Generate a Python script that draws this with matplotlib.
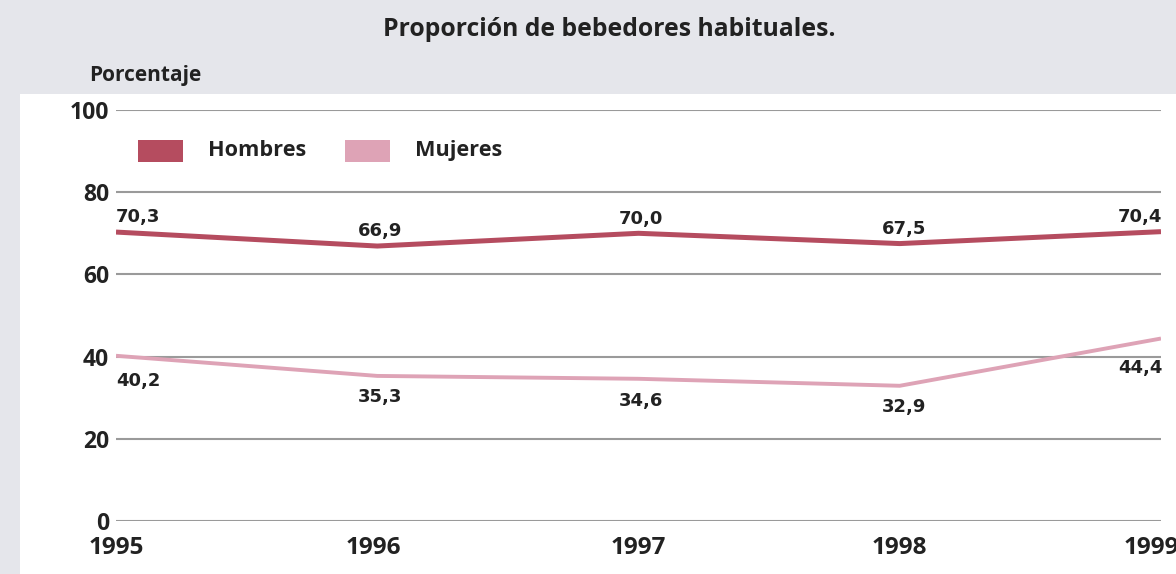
import matplotlib
matplotlib.use("Agg")
import matplotlib.pyplot as plt
import matplotlib.transforms as mtransforms
from matplotlib.patches import Rectangle

plt.rcParams['font.family'] = ['Open Sans', 'DejaVu Sans']
plt.rcParams['font.weight'] = 'bold'

# datos
years = [1995, 1996, 1997, 1998, 1999]
hombres = [70.3, 66.9, 70.0, 67.5, 70.4]
mujeres = [40.2, 35.3, 34.6, 32.9, 44.4]
hombres_labels = ["70,3", "66,9", "70,0", "67,5", "70,4"]
mujeres_labels = ["40,2", "35,3", "34,6", "32,9", "44,4"]
yticks = [0, 20, 40, 60, 80, 100]

c_hom = '#b54c5f'
c_muj = '#dea3b6'
c_txt = '#222222'
c_grid = '#9a9a9a'

W, H = 1176, 574
fig = plt.figure(figsize=(W / 100, H / 100), dpi=100, facecolor='#e5e6eb')

# panel blanco
fig.patches.append(Rectangle((20 / W, 0), 1 - 20 / W, 1 - 94 / H, transform=fig.transFigure,
                             facecolor='white', edgecolor='none', zorder=0))

ax = fig.add_axes([116 / W, 1 - 521 / H, (1161 - 116) / W, (521 - 110) / H])
ax.set_zorder(2)
ax.set_facecolor('none')
ax.set_xlim(1995, 1999)
ax.set_ylim(0, 100)

for v in yticks:
    ax.axhline(v, color=c_grid, lw=1.5, zorder=1)

ax.plot(years, hombres, color=c_hom, lw=3.6, solid_capstyle='butt', zorder=3)
ax.plot(years, mujeres, color=c_muj, lw=2.8, solid_capstyle='butt', zorder=3)

# etiquetas de valores
lab_font = dict(family='DejaVu Sans', fontsize=13, fontweight='bold', color=c_txt, zorder=4)
h_ha = ['left', 'center', 'center', 'center', 'right']
h_dx = [0, 2, 2, 3, 1]
for i, (x, y, s) in enumerate(zip(years, hombres, hombres_labels)):
    ax.annotate(s, (x, y), xytext=(h_dx[i], 7), textcoords='offset points',
                ha=h_ha[i], va='baseline', **lab_font)

m_dy = [-12, -8.6, -9.4, -8.6, -15]
for i, (x, y, s) in enumerate(zip(years, mujeres, mujeres_labels)):
    ax.annotate(s, (x, y), xytext=(h_dx[i], m_dy[i]), textcoords='offset points',
                ha=h_ha[i], va='top', **lab_font)

ax.set_yticks(yticks)
ax.set_yticklabels([str(v) for v in yticks], fontsize=16.5, fontweight='bold', color=c_txt)
ax.set_xticks(years)
ax.set_xticklabels([str(y) for y in years], fontsize=17.5, fontweight='bold', color=c_txt)
ax.tick_params(axis='y', length=0, pad=5)
ax.tick_params(axis='x', length=0, pad=11)
for s in ax.spines.values():
    s.set_visible(False)

# desplazar un poco las etiquetas del eje x como en el original
x_shift = [0, -3, 0, 0, -7]
for lab, dx in zip(ax.get_xticklabels(), x_shift):
    lab.set_transform(lab.get_transform() + mtransforms.ScaledTranslation(dx / 72, 0, fig.dpi_scale_trans))

# leyenda manual
fig.patches.append(Rectangle((138 / W, 1 - 162 / H), 45 / W, 22 / H, transform=fig.transFigure,
                             facecolor=c_hom, edgecolor='none', zorder=1))
fig.text(208 / W, 1 - 151 / H, "Hombres", fontsize=15.6, fontweight='bold', color=c_txt, va='center')
fig.patches.append(Rectangle((345 / W, 1 - 162 / H), 45 / W, 22 / H, transform=fig.transFigure,
                             facecolor=c_muj, edgecolor='none', zorder=1))
fig.text(415 / W, 1 - 151 / H, "Mujeres", fontsize=15.6, fontweight='bold', color=c_txt, va='center')

fig.text(609 / W, 1 - 30 / H, "Proporción de bebedores habituales.", fontsize=17.8,
         fontweight='bold', color=c_txt, ha='center', va='center')
fig.text(89 / W, 1 - 76 / H, "Porcentaje", fontsize=15, fontweight='bold', color=c_txt,
         ha='left', va='center')

fig.savefig('out.png', dpi=100, facecolor=fig.get_facecolor())
